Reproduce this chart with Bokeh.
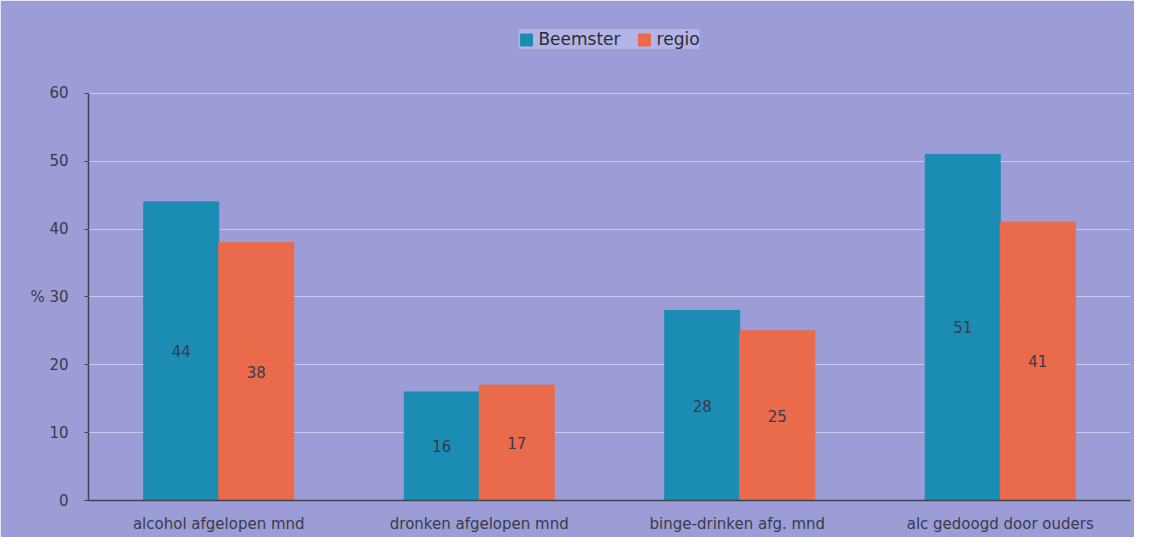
from bokeh.plotting import figure
from bokeh.models import ColumnDataSource, FactorRange, Range1d, SingleIntervalTicker, Legend, LegendItem
from bokeh.transform import dodge
from bokeh.core.properties import value
from bokeh.embed import file_html
from bokeh.resources import INLINE

categories = ["alcohol afgelopen mnd", "dronken afgelopen mnd", "binge-drinken  afg. mnd", "alc gedoogd door ouders"]
beemster = [44, 16, 28, 51]
regio = [38, 17, 25, 41]
series_names = ["Beemster", "regio"]
y_unit = "%"

BG = "#9c9dd6"
TEAL = "#1b8cb4"
ORANGE = "#ea6a4c"
TXT = "#3a3a4a"
FONT = "DejaVu Sans"

src = ColumnDataSource(dict(
    cat=categories,
    b=beemster,
    r=regio,
    b_mid=[v / 2 for v in beemster],
    r_mid=[v / 2 for v in regio],
    b_txt=[str(v) for v in beemster],
    r_txt=[str(v) for v in regio],
))

p = figure(width=1134, height=537, x_range=FactorRange(*categories), y_range=Range1d(0, 70),
           output_backend="svg", toolbar_location=None,
           background_fill_color=BG, border_fill_color=BG,
           min_border_left=88, min_border_right=4, min_border_top=25, min_border_bottom=37)

w = 0.288
rb = p.vbar(x=dodge("cat", -w / 2, range=p.x_range), top="b", width=w, source=src,
            fill_color=TEAL, line_color=TEAL)
rr = p.vbar(x=dodge("cat", w / 2, range=p.x_range), top="r", width=w, source=src,
            fill_color=ORANGE, line_color=ORANGE)

p.text(x=dodge("cat", -w / 2, range=p.x_range), y="b_mid", text="b_txt", source=src,
       text_align="center", text_baseline="middle", text_font=value(FONT),
       text_font_size="15px", text_color=TXT)
p.text(x=dodge("cat", w / 2, range=p.x_range), y="r_mid", text="r_txt", source=src,
       text_align="center", text_baseline="middle", text_font=value(FONT),
       text_font_size="15px", text_color=TXT)

p.yaxis.ticker = SingleIntervalTicker(interval=10)
p.yaxis.bounds = (0, 60)
p.yaxis.major_label_overrides = {30: y_unit + " 30"}
p.yaxis.minor_tick_line_color = None
p.yaxis.major_label_standoff = 16

for ax in (p.xaxis, p.yaxis):
    ax.major_label_text_font = FONT
    ax.major_label_text_font_size = "15px"
    ax.major_label_text_color = TXT
    ax.axis_line_color = "#3c4450"
    ax.axis_line_width = 1.5
    ax.major_tick_line_color = "#3c4450"
    ax.major_tick_in = 0
    ax.major_tick_out = 4

p.xaxis.major_tick_line_color = None
p.xaxis.major_label_standoff = 10

p.xgrid.grid_line_color = None
p.ygrid.grid_line_color = "#c4cdee"
p.ygrid.grid_line_width = 1
p.ygrid.bounds = (0, 60)
p.outline_line_color = BG
p.outline_line_width = 2

legend = Legend(items=[LegendItem(label=series_names[0], renderers=[rb]),
                       LegendItem(label=series_names[1], renderers=[rr])],
                orientation="horizontal", location="top_center",
                background_fill_color="#b2b4e6", background_fill_alpha=1,
                border_line_color=None, label_text_font=FONT, label_text_font_size="17px",
                label_text_color="#2a2a3a", glyph_width=15, glyph_height=15,
                spacing=16, padding=6, margin=4, label_standoff=5)
p.add_layout(legend)

open("out.html", "w").write(file_html(p, INLINE))
